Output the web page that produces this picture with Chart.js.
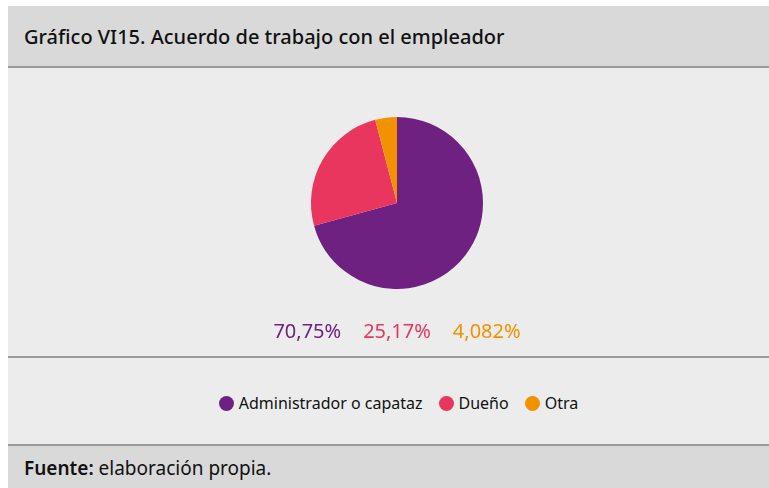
<!DOCTYPE html>
<html lang="es">
<head>
<meta charset="utf-8">
<script src="https://cdn.jsdelivr.net/npm/chart.js@4.4.1/dist/chart.umd.min.js"></script>
<style>
    body { margin: 0; background: #fff; font-family: "Noto Sans", sans-serif; }
    .marco { position: absolute; left: 8px; top: 6px; width: 761px; }
    .cabecera { background: #d9d9d9; border-bottom: 2px solid #9a9a9a; box-sizing: border-box; height: 62px; }
    .cabecera h1 { margin: 0; padding: 17px 0 0 16px; font-size: 20px; font-weight: 500; color: #111; }
    .panel { height: 290px; background: #ececec; border-bottom: 2px solid #9a9a9a; box-sizing: border-box; }
    .panel canvas { display: block; }
    .leyenda { height: 88px; background: #ececec; border-bottom: 2px solid #9a9a9a; box-sizing: border-box;
               display: flex; justify-content: center; align-items: center; padding: 4px 0 0 20px; font-size: 16px; color: #111; }
    .leyenda span { display: inline-flex; align-items: center; margin: 0 8px; }
    .leyenda i { width: 15px; height: 15px; border-radius: 50%; margin-right: 5px; display: inline-block; }
    .pie { height: 42px; background: #d9d9d9; padding: 9px 0 0 16px; box-sizing: border-box; font-size: 19px; color: #111; }
</style>
</head>
<body>
<div class="marco">
    <div class="cabecera"><h1>Gráfico VI15. Acuerdo de trabajo con el empleador</h1></div>
    <div class="panel"><canvas id="grafico" width="761" height="288"></canvas></div>
    <div class="leyenda" id="leyenda"></div>
    <div class="pie"><b style="font-weight:600">Fuente:</b> elaboración propia.</div>
</div>
<script>
const categorias = ["Administrador o capataz", "Dueño", "Otra"];
const valores = [70.75, 25.17, 4.082];
const colores = ["#6f2181", "#e8365e", "#f39200"];

// porcentajes debajo de la torta, en el color de cada porción
const etiquetasPorcentaje = {
    id: "etiquetasPorcentaje",
    afterDraw(chart) {
        const ctx = chart.ctx;
        const textos = valores.map(v => String(v).replace(".", ",") + "%");
        ctx.save();
        ctx.font = "20px 'Noto Sans', sans-serif";
        ctx.textBaseline = "middle";
        const sep = 22;
        const anchos = textos.map(t => ctx.measureText(t).width);
        const total = anchos.reduce((a, b) => a + b, 0) + sep * (textos.length - 1);
        let x = 389 - total / 2;
        textos.forEach((t, i) => {
            ctx.fillStyle = colores[i];
            ctx.fillText(t, x, 264);
            x += anchos[i] + sep;
        });
        ctx.restore();
    }
};

new Chart(document.getElementById("grafico"), {
    type: "pie",
    data: {
        labels: categorias,
        datasets: [{
            data: valores,
            backgroundColor: colores,
            borderWidth: 0
        }]
    },
    options: {
        responsive: false,
        animation: false,
        layout: { padding: { top: 49, bottom: 67, left: 17, right: 0 } },
        plugins: { legend: { display: false }, tooltip: { enabled: false } }
    },
    plugins: [etiquetasPorcentaje]
});

const leyenda = document.getElementById("leyenda");
categorias.forEach((c, i) => {
    const item = document.createElement("span");
    item.innerHTML = `<i style="background:${colores[i]}"></i>${c}`;
    leyenda.appendChild(item);
});
</script>
</body>
</html>
